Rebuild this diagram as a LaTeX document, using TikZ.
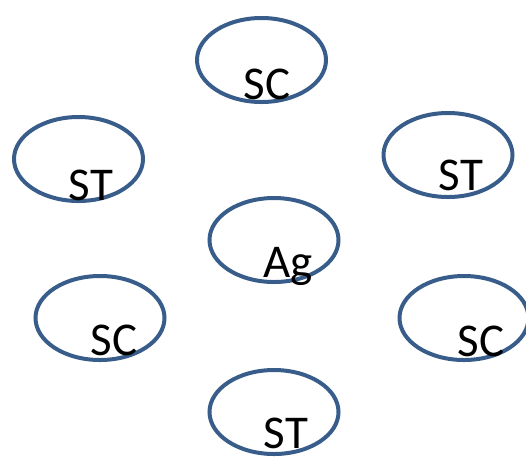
\documentclass[tikz,border=0pt]{standalone}
\usepackage{fontspec}
\setmainfont{Carlito}
\usetikzlibrary{shapes.geometric}
\definecolor{ringblue}{RGB}{56,93,138}
\tikzset{
  ring/.style={draw=ringblue, line width=4pt, ellipse, minimum width=129pt, minimum height=84pt, inner sep=0pt},
  lbl/.style={anchor=base, inner sep=0pt, font=\fontsize{47}{47}\selectfont}
}
\begin{document}
\begin{tikzpicture}[x=1pt,y=-1pt]
\useasboundingbox (0,0) rectangle (526,459);
\node[ring] (e1) at (261.5,60) {};
\node[ring] (e2) at (78.5,159) {};
\node[ring] (e3) at (448,155) {};
\node[ring] (e4) at (274,240) {};
\node[ring] (e5) at (100,318) {};
\node[ring] (e6) at (464,318) {};
\node[ring] (e7) at (274,412) {};
\node[lbl] (t1) at (267,99) {SC};
\node[lbl] (t2) at (91,200) {ST};
\node[lbl] (t3) at (461,190) {ST};
\node[lbl] (t4) at (288,277) {Ag};
\node[lbl] (t5) at (114,355) {SC};
\node[lbl] (t6) at (481,356) {SC};
\node[lbl] (t7) at (286,448) {ST};
\end{tikzpicture}
\end{document}
